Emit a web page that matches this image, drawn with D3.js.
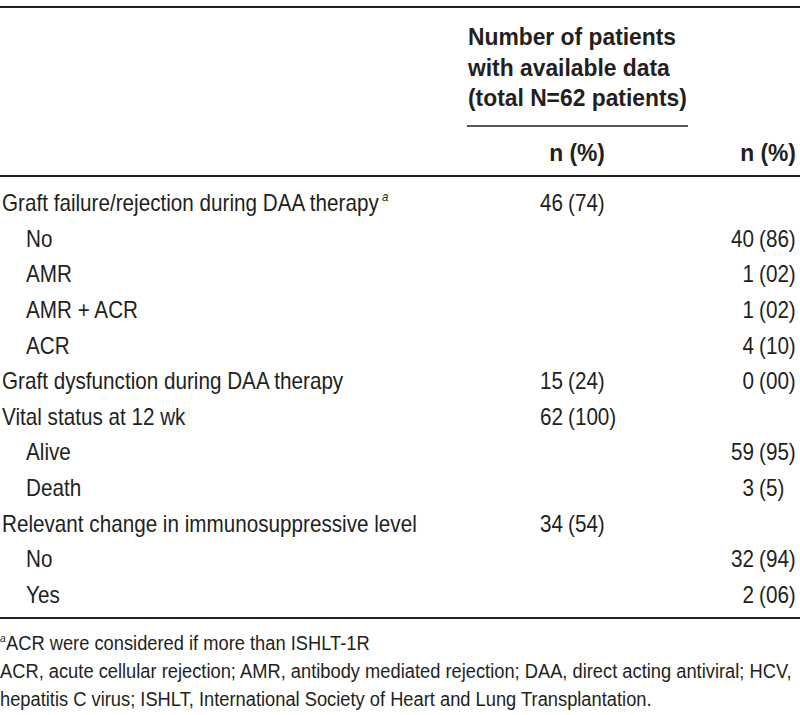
<!DOCTYPE html>
<html>
<head>
<meta charset="utf-8">
<script src="https://cdn.jsdelivr.net/npm/d3@7/dist/d3.min.js"></script>
<style>
  html, body { margin: 0; padding: 0; background: #fff; }
  svg { display: block; }
</style>
</head>
<body>
<script>
// ---------- data ----------
const headerLines = ["Number of patients", "with available data", "(total N=62 patients)"];
const colHeaders = ["n (%)", "n (%)"];
const rowLabels = [
  "Graft failure/rejection during DAA therapy",
  "No",
  "AMR",
  "AMR + ACR",
  "ACR",
  "Graft dysfunction during DAA therapy",
  "Vital status at 12 wk",
  "Alive",
  "Death",
  "Relevant change in immunosuppressive level",
  "No",
  "Yes"
];
const rowIndent = [0, 1, 1, 1, 1, 0, 0, 1, 1, 0, 1, 1];
const rowSup = ["a", "", "", "", "", "", "", "", "", "", "", ""];
const col1N   = ["46", "", "", "", "", "15", "62", "", "", "34", "", ""];
const col1Pct = ["74", "", "", "", "", "24", "100", "", "", "54", "", ""];
const col2N   = ["", "40", "1", "1", "4", "0", "", "59", "3", "", "32", "2"];
const col2Pct = ["", "86", "02", "02", "10", "00", "", "95", "5", "", "94", "06"];
const footSups = ["a", "", ""];
const footLines = [
  "ACR were considered if more than ISHLT-1R",
  "ACR, acute cellular rejection; AMR, antibody mediated rejection; DAA, direct acting antiviral; HCV,",
  "hepatitis C virus; ISHLT, International Society of Heart and Lung Transplantation."
];

// ---------- layout ----------
const W = 800, H = 715;
const FONT = "'Liberation Sans', Arial, Helvetica, sans-serif";
const INK = "#231f20";

const svg = d3.select("body").append("svg")
  .attr("width", W).attr("height", H)
  .style("font-family", FONT);

function measure(str, size, weight) {
  const t = svg.append("text").attr("font-size", size).attr("font-weight", weight || "normal").text(str);
  const w = t.node().getComputedTextLength();
  t.remove();
  return w;
}

const bodySize = 23, headSize = 23, footSize = 21;
// horizontal condensing factors fitted to the reference widths
const kBody = 377 / measure(rowLabels[0], bodySize);
const kHead = 219 / measure(headerLines[2], headSize, "bold");
const kFoot = 792 / measure(footLines[1], footSize);

// place horizontally condensed text via transform; anchor "start" or "end"
function place(sel, size, weight, k, xFn, yFn, anchor) {
  sel.each(function(d, i) {
    const t = d3.select(this);
    const str = t.text();
    const w = str ? measure(str, size, weight) * k : 0;
    const x0 = anchor === "end" ? xFn(d, i) - w : xFn(d, i);
    t.attr("x", 0).attr("y", 0)
      .attr("transform", `translate(${x0},${yFn(d, i)}) scale(${k},1)`);
  });
}

const y = d3.scalePoint().domain(d3.range(rowLabels.length)).range([203, 595]);
const headY = d3.scalePoint().domain(d3.range(headerLines.length)).range([45, 106]);
const footY = d3.scalePoint().domain(d3.range(footLines.length)).range([650, 706]);
const indentX = d3.scaleOrdinal().domain([0, 1]).range([2, 26]);

const col1Paren = 568, col2Paren = 759;
const baseOff = 8;

// rules
function rule(x1, x2, yy, sw) {
  svg.append("line").attr("x1", x1).attr("x2", x2).attr("y1", yy).attr("y2", yy)
    .attr("stroke", INK).attr("stroke-width", sw);
}
rule(0, W, 7, 2);
rule(467, 688, 126, 1.6);
rule(0, W, 176, 2);
rule(0, W, 618, 2);

// header
svg.selectAll("text.head").data(headerLines).join("text")
  .attr("class", "head")
  .attr("font-size", headSize).attr("font-weight", "bold").attr("fill", INK)
  .text(d => d)
  .call(place, headSize, "bold", kHead, () => 468, (d, i) => headY(i), "start");

svg.selectAll("text.colh").data(colHeaders).join("text")
  .attr("class", "colh")
  .attr("font-size", headSize).attr("font-weight", "bold").attr("fill", INK)
  .text(d => d)
  .call(place, headSize, "bold", kHead, (d, i) => i === 0 ? 605 : 796, () => 161, "end");

// row labels
svg.selectAll("text.lab").data(rowLabels).join("text")
  .attr("class", "lab")
  .attr("font-size", bodySize).attr("fill", INK)
  .text(d => d)
  .call(place, bodySize, "normal", kBody, (d, i) => indentX(rowIndent[i]), (d, i) => y(i) + baseOff, "start");

// superscripts on row labels
svg.selectAll("text.labsup").data(rowSup).join("text")
  .attr("class", "labsup")
  .attr("font-size", bodySize * 0.56).attr("font-style", "italic").attr("fill", INK)
  .text(d => d)
  .call(place, bodySize * 0.56, "normal", kBody,
        (d, i) => indentX(rowIndent[i]) + measure(rowLabels[i], bodySize) * kBody + 3,
        (d, i) => y(i) + baseOff - 10, "start");

// value columns (aligned on the parenthesis)
function valueCol(nArr, pArr, parenX, cls) {
  svg.selectAll("text." + cls + "n").data(nArr).join("text")
    .attr("class", cls + "n")
    .attr("font-size", bodySize).attr("fill", INK)
    .text(d => d)
    .call(place, bodySize, "normal", kBody, () => parenX - 5, (d, i) => y(i) + baseOff, "end");
  svg.selectAll("text." + cls + "p").data(pArr).join("text")
    .attr("class", cls + "p")
    .attr("font-size", bodySize).attr("fill", INK)
    .text(d => d ? "(" + d + ")" : "")
    .call(place, bodySize, "normal", kBody, () => parenX, (d, i) => y(i) + baseOff, "start");
}
valueCol(col1N, col1Pct, col1Paren, "c1");
valueCol(col2N, col2Pct, col2Paren, "c2");

// footnotes
svg.selectAll("text.foot").data(footLines).join("text")
  .attr("class", "foot")
  .attr("font-size", footSize).attr("fill", INK)
  .text(d => d)
  .call(place, footSize, "normal", kFoot, (d, i) => footSups[i] ? 6 : 0, (d, i) => footY(i), "start");

svg.selectAll("text.footsup").data(footSups).join("text")
  .attr("class", "footsup")
  .attr("font-size", footSize * 0.56).attr("font-style", "italic").attr("fill", INK)
  .text(d => d)
  .call(place, footSize * 0.56, "normal", kFoot, () => 0, (d, i) => footY(i) - 8, "start");
</script>
</body>
</html>
